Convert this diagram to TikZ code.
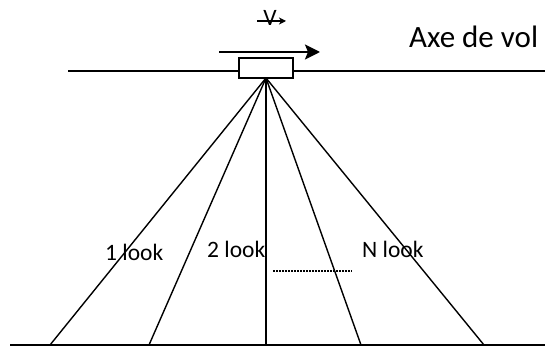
\documentclass[tikz,border=0pt]{standalone}
\usepackage{fontspec}
\setmainfont{Carlito}
\usetikzlibrary{arrows.meta}
\begin{document}
\begin{tikzpicture}[x=1pt,y=-1pt,
  lbl/.style={font=\fontsize{23.5}{26}\selectfont, inner sep=0pt},
  biglbl/.style={font=\fontsize{31}{34}\selectfont, inner sep=0pt},
  ray/.style={line width=1.4pt},
  ground/.style={line width=2.2pt},
  sensorbox/.style={draw, fill=white, line width=1.5pt, minimum width=54pt, minimum height=20pt, inner sep=0pt}]
\useasboundingbox (0,0) rectangle (545,347);
% flight axis
\coordinate (axL) at (68,71);
\coordinate (axR) at (545,71);
\draw[ground] (axL) -- (axR);
\node[sensorbox] (sensor) at (266,68) {};
\coordinate (apex) at (266,78);
% ground
\coordinate (gL) at (10,345);
\coordinate (gR) at (545,345);
\draw[ground] (gL) -- (gR);
% ground points
\coordinate (g1) at (50,345);
\coordinate (g2) at (149,345);
\coordinate (g3) at (266,345);
\coordinate (g4) at (361,345);
\coordinate (g5) at (484,345);
\foreach \g in {g1,g2,g3,g4,g5} \draw[ray] (apex) -- (\g);
% velocity arrow
\coordinate (vA) at (219,52);
\coordinate (vB) at (320,52);
\draw[line width=2.4pt, -{Stealth[length=15pt,width=15pt,inset=3pt]}] (vA) -- (vB);
\node[lbl, anchor=base] (V) at (270,26) {V};
\coordinate (sA) at (257,21);
\coordinate (sB) at (286,21);
\draw[line width=1.3pt, -{Stealth[length=7pt,width=7pt,inset=2pt]}] (sA) -- (sB);
% labels
\node[biglbl, anchor=base west] (axe) at (409,48) {Axe de vol};
\node[lbl, anchor=base west] (l1) at (105,260) {1 look};
\node[lbl, anchor=base west] (l2) at (207,257) {2 look};
\node[lbl, anchor=base west] (lN) at (362,257) {N look};
\coordinate (dA) at (273,271);
\coordinate (dB) at (352,271);
\draw[line width=1.2pt, dash pattern=on 1.5pt off 1.5pt] (dA) -- (dB);
\end{tikzpicture}
\end{document}
